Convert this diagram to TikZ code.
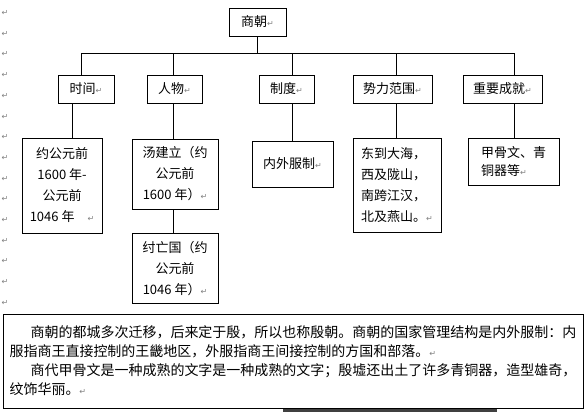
\documentclass[tikz,border=0pt]{standalone}
\usepackage{fontspec}
\setmainfont{Noto Sans CJK SC}
\newfontfamily\symfont{DejaVu Sans}
\usetikzlibrary{positioning}
\newcommand\rmk{{\symfont\fontsize{8}{8}\selectfont\textcolor{gray}{↵}}}

\begin{document}
\begin{tikzpicture}[x=1pt, y=-1pt, line width=0.8pt, font=\fontsize{13}{21}\selectfont,
cat/.style={draw, inner sep=0pt, minimum height=28pt, align=center},
info/.style={draw, inner sep=0pt, align=center},
note/.style={draw, inner sep=0pt, align=left, font=\fontsize{14}{19}\selectfont},
mk/.style={inner sep=0pt, font=\symfont\fontsize{8}{8}\selectfont, text=gray}]
\useasboundingbox (0,0) rectangle (587,412);
\foreach \i in {0,...,14} \node[mk] (m\i) at (5,{13+20.7*\i}) {↵};
\node[cat, minimum width=57pt] (top) at (257.5,22) {商朝\rmk};
\node[cat, minimum width=56pt] (t1) at (86,89) {时间\rmk};
\node[cat, minimum width=55pt] (t2) at (174.5,89) {人物\rmk};
\node[cat, minimum width=55pt] (t3) at (286.5,89) {制度\rmk};
\node[cat, minimum width=79pt] (t4) at (392.5,89) {势力范围\rmk};
\node[cat, minimum width=79pt] (t5) at (502.5,89) {重要成就\rmk};
\node[info, minimum width=80pt, minimum height=95pt] (d1) at (62,185.5) {约公元前\\1600 年-\\公元前\\1046 年\quad\rmk};
\node[info, minimum width=86pt, minimum height=70pt] (d2) at (175,174) {汤建立（约\\公元前\\1600 年）\rmk};
\node[info, minimum width=86pt, minimum height=70pt, below=24pt of d2] (d3) {纣亡国（约\\公元前\\1046 年）\rmk};
\node[info, minimum width=81pt, minimum height=46pt] (d4) at (292.5,164) {内外服制\rmk};
\node[info, align=left, minimum width=88pt, minimum height=94pt] (d5) at (397,185) {东到大海，\\西及陇山，\\南跨江汉，\\北及燕山。\rmk};
\node[info, align=left, minimum width=91pt, minimum height=47pt, font=\fontsize{13}{18}\selectfont] (d6) at (513.5,161.5) {甲骨文、青\\铜器等\rmk};
\node[note, minimum width=580pt, minimum height=94pt] (nt) at (293,361) {\hspace*{21pt}商朝的都城多次迁移，后来定于殷，所以也称殷朝。商朝的国家管理结构是内外服制：内\\服指商王直接控制的王畿地区，外服指商王间接控制的方国和部落。\rmk\\\hspace*{21pt}商代甲骨文是一种成熟的文字是一种成熟的文字；殷墟还出土了许多青铜器，造型雄奇，\\纹饰华丽。\rmk};
\coordinate (bar) at (257.5,53);
\draw (top) -- (bar);
\draw ([xshift=-5pt]t1.north) |- (bar); \draw ([xshift=-1.5pt]t2.north) |- (bar);
\draw ([xshift=5.5pt]t3.north) |- (bar); \draw ([xshift=3.5pt]t4.north) |- (bar);
\draw ([xshift=11.5pt]t5.north) |- (bar);
\draw ([xshift=-14pt]t1.south) -- ([xshift=10pt]d1.north);
\draw ([xshift=-1.5pt]t2.south) -- ([xshift=-2pt]d2.north); \draw ([xshift=-2pt]d2.south) -- ([xshift=-2pt]d3.north);
\draw ([xshift=5.5pt]t3.south) -- ([xshift=-0.5pt]d4.north);
\draw ([xshift=3.5pt]t4.south) -- ([xshift=-1pt]d5.north);
\draw ([xshift=11.5pt]t5.south) -- ([xshift=0.5pt]d6.north);
\fill[black!75] (283,409) rectangle (497,412);
\end{tikzpicture}
\end{document}
